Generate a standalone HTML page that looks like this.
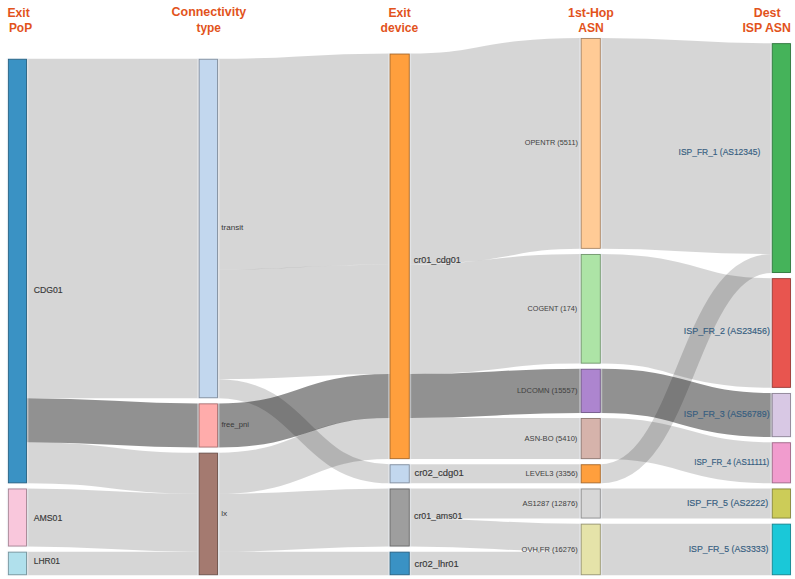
<!DOCTYPE html>
<html><head><meta charset="utf-8"><style>
html,body{margin:0;padding:0;background:#fff;width:795px;height:579px;overflow:hidden}
svg{display:block;font-family:"Liberation Sans",sans-serif}

</style></head><body>
<svg width="795" height="579" viewBox="0 0 795 579">
<g><path d="M26.95,228.5C112.82,228.5 112.82,228.5 198.7,228.5" fill="none" stroke="rgba(0,0,0,0.16)" stroke-width="339.4"/><path d="M26.95,420.25C112.82,420.25 112.82,425.45 198.7,425.45" fill="none" stroke="rgba(0,0,0,0.43)" stroke-width="44.1"/><path d="M26.95,462.8C112.82,462.8 112.82,473.2 198.7,473.2" fill="none" stroke="rgba(0,0,0,0.16)" stroke-width="41"/><path d="M26.95,517.5C112.82,517.5 112.82,522.7 198.7,522.7" fill="none" stroke="rgba(0,0,0,0.16)" stroke-width="58"/><path d="M26.95,563.45C112.82,563.45 112.82,563.45 198.7,563.45" fill="none" stroke="rgba(0,0,0,0.16)" stroke-width="23.5"/><path d="M218,164.2C303.8,164.2 303.8,159 389.6,159" fill="none" stroke="rgba(0,0,0,0.16)" stroke-width="210.8"/><path d="M218,324.4C303.8,324.4 303.8,319.2 389.6,319.2" fill="none" stroke="rgba(0,0,0,0.16)" stroke-width="109.6"/><path d="M218,388.7C303.8,388.7 303.8,473.8 389.6,473.8" fill="none" stroke="rgba(0,0,0,0.16)" stroke-width="19"/><path d="M218,425.45C303.8,425.45 303.8,396.05 389.6,396.05" fill="none" stroke="rgba(0,0,0,0.43)" stroke-width="44.1"/><path d="M218,473.2C303.8,473.2 303.8,438.6 389.6,438.6" fill="none" stroke="rgba(0,0,0,0.16)" stroke-width="41"/><path d="M218,522.7C303.8,522.7 303.8,517.5 389.6,517.5" fill="none" stroke="rgba(0,0,0,0.16)" stroke-width="58"/><path d="M218,563.45C303.8,563.45 303.8,563.45 389.6,563.45" fill="none" stroke="rgba(0,0,0,0.16)" stroke-width="23.5"/><path d="M409.7,159C495.23,159 495.23,143.4 580.75,143.4" fill="none" stroke="rgba(0,0,0,0.16)" stroke-width="210.8"/><path d="M409.7,319.2C495.23,319.2 495.23,308.8 580.75,308.8" fill="none" stroke="rgba(0,0,0,0.16)" stroke-width="109.6"/><path d="M409.7,396.05C495.23,396.05 495.23,390.85 580.75,390.85" fill="none" stroke="rgba(0,0,0,0.43)" stroke-width="44.1"/><path d="M409.7,438.6C495.23,438.6 495.23,438.6 580.75,438.6" fill="none" stroke="rgba(0,0,0,0.16)" stroke-width="41"/><path d="M409.7,473.8C495.23,473.8 495.23,473.8 580.75,473.8" fill="none" stroke="rgba(0,0,0,0.16)" stroke-width="19"/><path d="M409.7,503.5C495.23,503.5 495.23,503.5 580.75,503.5" fill="none" stroke="rgba(0,0,0,0.16)" stroke-width="30"/><path d="M409.7,532.5C495.23,532.5 495.23,537.7 580.75,537.7" fill="none" stroke="rgba(0,0,0,0.16)" stroke-width="28"/><path d="M409.7,563.45C495.23,563.45 495.23,563.45 580.75,563.45" fill="none" stroke="rgba(0,0,0,0.16)" stroke-width="23.5"/><path d="M600.75,143.4C686.27,143.4 686.27,148.6 771.8,148.6" fill="none" stroke="rgba(0,0,0,0.16)" stroke-width="210.8"/><path d="M600.75,473.8C686.27,473.8 686.27,263.5 771.8,263.5" fill="none" stroke="rgba(0,0,0,0.16)" stroke-width="19"/><path d="M600.75,308.8C686.27,308.8 686.27,333 771.8,333" fill="none" stroke="rgba(0,0,0,0.16)" stroke-width="109.6"/><path d="M600.75,390.85C686.27,390.85 686.27,415.05 771.8,415.05" fill="none" stroke="rgba(0,0,0,0.43)" stroke-width="44.1"/><path d="M600.75,438.6C686.27,438.6 686.27,462.8 771.8,462.8" fill="none" stroke="rgba(0,0,0,0.16)" stroke-width="41"/><path d="M600.75,503.5C686.27,503.5 686.27,503.5 771.8,503.5" fill="none" stroke="rgba(0,0,0,0.16)" stroke-width="30"/><path d="M600.75,549.45C686.27,549.45 686.27,549.45 771.8,549.45" fill="none" stroke="rgba(0,0,0,0.16)" stroke-width="51.5"/></g>
<g><rect x="7.15" y="551.7" width="20.55" height="23.5" fill="none" stroke="rgba(240,245,250,0.45)" stroke-width="1.5"/><rect x="8.35" y="552.15" width="18.15" height="22.6" fill="#b0e0ec" stroke="#74939b" stroke-width="0.9"/><rect x="7.15" y="488.5" width="20.55" height="58" fill="none" stroke="rgba(240,245,250,0.45)" stroke-width="1.5"/><rect x="8.35" y="488.95" width="18.15" height="57.1" fill="#f9c7dc" stroke="#a48391" stroke-width="0.9"/><rect x="7.15" y="58.8" width="20.55" height="424.5" fill="none" stroke="rgba(240,245,250,0.45)" stroke-width="1.5"/><rect x="8.35" y="59.25" width="18.15" height="423.6" fill="#3a92c4" stroke="#266081" stroke-width="0.9"/><rect x="197.95" y="452.7" width="20.8" height="122.5" fill="none" stroke="rgba(240,245,250,0.45)" stroke-width="1.5"/><rect x="199.15" y="453.15" width="18.4" height="121.6" fill="#a47a70" stroke="#6c5049" stroke-width="0.9"/><rect x="197.95" y="403.4" width="20.8" height="44.1" fill="none" stroke="rgba(240,245,250,0.45)" stroke-width="1.5"/><rect x="199.15" y="403.85" width="18.4" height="43.2" fill="#ffacab" stroke="#a87170" stroke-width="0.9"/><rect x="197.95" y="58.8" width="20.8" height="339.4" fill="none" stroke="rgba(240,245,250,0.45)" stroke-width="1.5"/><rect x="199.15" y="59.25" width="18.4" height="338.5" fill="#c2d7ee" stroke="#808d9d" stroke-width="0.9"/><rect x="388.85" y="551.7" width="21.6" height="23.5" fill="none" stroke="rgba(240,245,250,0.45)" stroke-width="1.5"/><rect x="390.05" y="552.15" width="19.2" height="22.6" fill="#3a92c4" stroke="#266081" stroke-width="0.9"/><rect x="388.85" y="488.5" width="21.6" height="58" fill="none" stroke="rgba(240,245,250,0.45)" stroke-width="1.5"/><rect x="390.05" y="488.95" width="19.2" height="57.1" fill="#9e9e9e" stroke="#686868" stroke-width="0.9"/><rect x="388.85" y="464.3" width="21.6" height="19" fill="none" stroke="rgba(240,245,250,0.45)" stroke-width="1.5"/><rect x="390.05" y="464.75" width="19.2" height="18.1" fill="#c2d7ee" stroke="#808d9d" stroke-width="0.9"/><rect x="388.85" y="53.6" width="21.6" height="405.5" fill="none" stroke="rgba(240,245,250,0.45)" stroke-width="1.5"/><rect x="390.05" y="54.05" width="19.2" height="404.6" fill="#ff9f3d" stroke="#a86828" stroke-width="0.9"/><rect x="580" y="523.7" width="21.5" height="51.5" fill="none" stroke="rgba(240,245,250,0.45)" stroke-width="1.5"/><rect x="581.2" y="524.15" width="19.1" height="50.6" fill="#e5e3a9" stroke="#97956f" stroke-width="0.9"/><rect x="580" y="488.5" width="21.5" height="30" fill="none" stroke="rgba(240,245,250,0.45)" stroke-width="1.5"/><rect x="581.2" y="488.95" width="19.1" height="29.1" fill="#d7d7d7" stroke="#8d8d8d" stroke-width="0.9"/><rect x="580" y="464.3" width="21.5" height="19" fill="none" stroke="rgba(240,245,250,0.45)" stroke-width="1.5"/><rect x="581.2" y="464.75" width="19.1" height="18.1" fill="#ff9f3d" stroke="#a86828" stroke-width="0.9"/><rect x="580" y="418.1" width="21.5" height="41" fill="none" stroke="rgba(240,245,250,0.45)" stroke-width="1.5"/><rect x="581.2" y="418.55" width="19.1" height="40.1" fill="#d6b3ab" stroke="#8d7670" stroke-width="0.9"/><rect x="580" y="368.8" width="21.5" height="44.1" fill="none" stroke="rgba(240,245,250,0.45)" stroke-width="1.5"/><rect x="581.2" y="369.25" width="19.1" height="43.2" fill="#ad85cf" stroke="#725788" stroke-width="0.9"/><rect x="580" y="254" width="21.5" height="109.6" fill="none" stroke="rgba(240,245,250,0.45)" stroke-width="1.5"/><rect x="581.2" y="254.45" width="19.1" height="108.7" fill="#ade4a6" stroke="#72966d" stroke-width="0.9"/><rect x="580" y="38" width="21.5" height="210.8" fill="none" stroke="rgba(240,245,250,0.45)" stroke-width="1.5"/><rect x="581.2" y="38.45" width="19.1" height="209.9" fill="#ffcb96" stroke="#a88563" stroke-width="0.9"/><rect x="771.05" y="523.7" width="20.6" height="51.5" fill="none" stroke="rgba(240,245,250,0.45)" stroke-width="1.5"/><rect x="772.25" y="524.15" width="18.2" height="50.6" fill="#1ac8d8" stroke="#11848e" stroke-width="0.9"/><rect x="771.05" y="488.5" width="20.6" height="30" fill="none" stroke="rgba(240,245,250,0.45)" stroke-width="1.5"/><rect x="772.25" y="488.95" width="18.2" height="29.1" fill="#cccc58" stroke="#86863a" stroke-width="0.9"/><rect x="771.05" y="442.3" width="20.6" height="41" fill="none" stroke="rgba(240,245,250,0.45)" stroke-width="1.5"/><rect x="772.25" y="442.75" width="18.2" height="40.1" fill="#f19cce" stroke="#9f6687" stroke-width="0.9"/><rect x="771.05" y="393" width="20.6" height="44.1" fill="none" stroke="rgba(240,245,250,0.45)" stroke-width="1.5"/><rect x="772.25" y="393.45" width="18.2" height="43.2" fill="#d8c8e4" stroke="#8e8496" stroke-width="0.9"/><rect x="771.05" y="278.2" width="20.6" height="109.6" fill="none" stroke="rgba(240,245,250,0.45)" stroke-width="1.5"/><rect x="772.25" y="278.65" width="18.2" height="108.7" fill="#e8554f" stroke="#993834" stroke-width="0.9"/><rect x="771.05" y="43.2" width="20.6" height="229.8" fill="none" stroke="rgba(240,245,250,0.45)" stroke-width="1.5"/><rect x="772.25" y="43.65" width="18.2" height="228.9" fill="#45b35a" stroke="#2d763b" stroke-width="0.9"/></g>
<g class="lbl"><text x="33.7" y="293.3" font-size="8.5" textLength="28.9" lengthAdjust="spacingAndGlyphs" fill="#383838" stroke="#383838" stroke-width="0.15">CDG01</text><text x="33.7" y="521.3" font-size="8.5" textLength="28.6" lengthAdjust="spacingAndGlyphs" fill="#383838" stroke="#383838" stroke-width="0.15">AMS01</text><text x="33.7" y="564" font-size="8.5" textLength="26.4" lengthAdjust="spacingAndGlyphs" fill="#383838" stroke="#383838" stroke-width="0.15">LHR01</text><text x="221.2" y="230.4" font-size="7.8" textLength="22.1" lengthAdjust="spacingAndGlyphs" fill="#383838">transit</text><text x="221.4" y="426.8" font-size="7.8" textLength="27.6" lengthAdjust="spacingAndGlyphs" fill="#383838">free_pni</text><text x="221.2" y="516" font-size="7.8" textLength="6" lengthAdjust="spacingAndGlyphs" fill="#383838">lx</text><text x="413.8" y="262.7" font-size="9.0" textLength="47.1" lengthAdjust="spacingAndGlyphs" fill="#383838" stroke="#383838" stroke-width="0.15">cr01_cdg01</text><text x="414.5" y="476.3" font-size="9.0" textLength="49.2" lengthAdjust="spacingAndGlyphs" fill="#383838" stroke="#383838" stroke-width="0.15">cr02_cdg01</text><text x="414" y="518.7" font-size="9.0" textLength="48.3" lengthAdjust="spacingAndGlyphs" fill="#383838" stroke="#383838" stroke-width="0.15">cr01_ams01</text><text x="414.5" y="567" font-size="9.0" textLength="44.2" lengthAdjust="spacingAndGlyphs" fill="#383838" stroke="#383838" stroke-width="0.15">cr02_lhr01</text><text x="524.8" y="145.1" font-size="7.8" textLength="53.1" lengthAdjust="spacingAndGlyphs" fill="#404040">OPENTR (5511)</text><text x="527.6" y="310.6" font-size="7.8" textLength="49.6" lengthAdjust="spacingAndGlyphs" fill="#404040">COGENT (174)</text><text x="516.9" y="393.1" font-size="7.8" textLength="60.5" lengthAdjust="spacingAndGlyphs" fill="#404040">LDCOMN (15557)</text><text x="524.6" y="441.1" font-size="7.8" textLength="52.8" lengthAdjust="spacingAndGlyphs" fill="#404040">ASN-BO (5410)</text><text x="525.6" y="476.1" font-size="7.8" textLength="52.1" lengthAdjust="spacingAndGlyphs" fill="#404040">LEVEL3 (3356)</text><text x="522.5" y="506.3" font-size="7.8" textLength="55.2" lengthAdjust="spacingAndGlyphs" fill="#404040">AS1287 (12876)</text><text x="521.6" y="552.4" font-size="7.8" textLength="56.1" lengthAdjust="spacingAndGlyphs" fill="#404040">OVH,FR (16276)</text><text x="678.6" y="155.3" font-size="8.9" textLength="81.6" lengthAdjust="spacingAndGlyphs" fill="#355d80" stroke="#355d80" stroke-width="0.15">ISP_FR_1 (AS12345)</text><text x="683.8" y="334" font-size="8.9" textLength="86.1" lengthAdjust="spacingAndGlyphs" fill="#355d80" stroke="#355d80" stroke-width="0.15">ISP_FR_2 (AS23456)</text><text x="683.8" y="416.9" font-size="8.9" textLength="85.8" lengthAdjust="spacingAndGlyphs" fill="#355d80" stroke="#355d80" stroke-width="0.15">ISP_FR_3 (AS56789)</text><text x="694.2" y="465.3" font-size="8.9" textLength="75.1" lengthAdjust="spacingAndGlyphs" fill="#355d80" stroke="#355d80" stroke-width="0.15">ISP_FR_4 (AS11111)</text><text x="686.9" y="506.3" font-size="8.9" textLength="81.3" lengthAdjust="spacingAndGlyphs" fill="#355d80" stroke="#355d80" stroke-width="0.15">ISP_FR_5 (AS2222)</text><text x="688.7" y="552.3" font-size="8.9" textLength="79.8" lengthAdjust="spacingAndGlyphs" fill="#355d80" stroke="#355d80" stroke-width="0.15">ISP_FR_5 (AS3333)</text></g>
<g><text x="7.5" y="16.55" font-size="12" font-weight="bold" textLength="22.3" lengthAdjust="spacingAndGlyphs" fill="#e2531c">Exit</text><text x="8.9" y="31.65" font-size="12" font-weight="bold" textLength="23.2" lengthAdjust="spacingAndGlyphs" fill="#e2531c">PoP</text><text x="171.6" y="16.45" font-size="12" font-weight="bold" textLength="74.6" lengthAdjust="spacingAndGlyphs" fill="#e2531c">Connectivity</text><text x="196.5" y="31.65" font-size="12" font-weight="bold" textLength="24.5" lengthAdjust="spacingAndGlyphs" fill="#e2531c">type</text><text x="388.5" y="16.55" font-size="12" font-weight="bold" textLength="22.3" lengthAdjust="spacingAndGlyphs" fill="#e2531c">Exit</text><text x="380.6" y="31.65" font-size="12" font-weight="bold" textLength="37.6" lengthAdjust="spacingAndGlyphs" fill="#e2531c">device</text><text x="568.1" y="16.55" font-size="12" font-weight="bold" textLength="45.8" lengthAdjust="spacingAndGlyphs" fill="#e2531c">1st-Hop</text><text x="578.2" y="31.65" font-size="12" font-weight="bold" textLength="25.6" lengthAdjust="spacingAndGlyphs" fill="#e2531c">ASN</text><text x="753.7" y="16.55" font-size="12" font-weight="bold" textLength="26.89" lengthAdjust="spacingAndGlyphs" fill="#e2531c">Dest</text><text x="742.4" y="31.55" font-size="12" font-weight="bold" textLength="48.6" lengthAdjust="spacingAndGlyphs" fill="#e2531c">ISP ASN</text></g>
</svg>
</body></html>
